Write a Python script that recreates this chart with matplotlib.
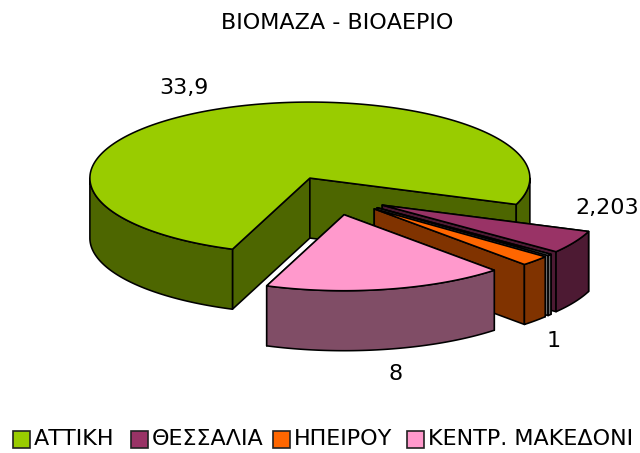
import numpy as np
import matplotlib
matplotlib.use('Agg')
import matplotlib.pyplot as plt
from matplotlib.patches import Polygon, Rectangle

# values, the sliver has no label of its own
regions = ['ΑΤΤΙΚΗ', 'ΘΕΣΣΑΛΙΑ', 'ΗΠΕΙΡΟΥ', 'ΚΕΝΤΡ. ΜΑΚΕΔΟΝΙ']
values = [33.9, 2.203, 0.15, 1, 8]
value_labels = ['33,9', '2,203', '1', '8']
tops = ['#99CC00', '#993366', '#969696', '#FF6600', '#FF99CC']
sides = ['#4D6600', '#4D1A33', '#6E6E6E', '#803300', '#804D66']
legend_colors = ['#99CC00', '#993366', '#FF6600', '#FF99CC']

plt.rcParams['font.family'] = 'DejaVu Sans'
fig = plt.figure(figsize=(6.4, 4.53), dpi=100)
ax = fig.add_axes([0, 0, 1, 1])
ax.set_xlim(0, 640)
ax.set_ylim(453, 0)
ax.axis('off')

cx, cy = 333.2, 195.7
rx, ry = 220, 76
depth = 60
explode = 0.255
lw = 1.15
start = np.radians(-249.4)


def pt(off, t):
    return np.column_stack([off[0] + rx * np.cos(t), off[1] + ry * np.sin(t)])


def face(xy, color, z):
    ax.add_patch(Polygon(xy, closed=True, facecolor=color, edgecolor='black',
                         lw=lw, joinstyle='round', zorder=z))


fracs = np.array(values) / sum(values) * 2 * np.pi
ends = start + np.cumsum(fracs)
starts = ends - fracs
down = np.array([0, depth])

for i in range(len(values)):
    a, b = starts[i], ends[i]
    mid = (a + b) / 2
    off = np.array([cx + explode * rx * np.cos(mid), cy + explode * ry * np.sin(mid)])
    arc = pt(off, np.linspace(a, b, 200))
    z = 1 + i
    # radial walls
    for ang in (a, b):
        e = pt(off, np.array([ang]))
        face(np.vstack([off, e, e + down, off + down]), sides[i], z)
    # outer wall, only the part that faces front
    for k in range(-2, 3):
        lo = max(a, k * 2 * np.pi)
        hi = min(b, k * 2 * np.pi + np.pi)
        if hi > lo:
            o = pt(off, np.linspace(lo, hi, 120))
            face(np.vstack([o, (o + down)[::-1]]), sides[i], z)
    face(np.vstack([off, arc]), tops[i], z + 0.5)

ax.text(337, 23, 'ΒΙΟΜΑΖΑ - ΒΙΟΑΕΡΙΟ', ha='center', va='center', fontsize=16)
label_pos = [(184, 88.5), (607, 208.5), (554, 341), (396, 373.5)]
for txt, (x, y) in zip(value_labels, label_pos):
    ax.text(x, y, txt, ha='center', va='center', fontsize=16)

# legend runs off the right side in the original
boxes = [13, 131, 273, 407]
for bx, lab, col in zip(boxes, regions, legend_colors):
    ax.add_patch(Rectangle((bx, 430.5), 17, 17, facecolor=col, edgecolor='#222222', lw=1.2))
    ax.text(bx + 21, 439, lab, va='center', ha='left', fontsize=16)

fig.savefig('out.png', dpi=100)
